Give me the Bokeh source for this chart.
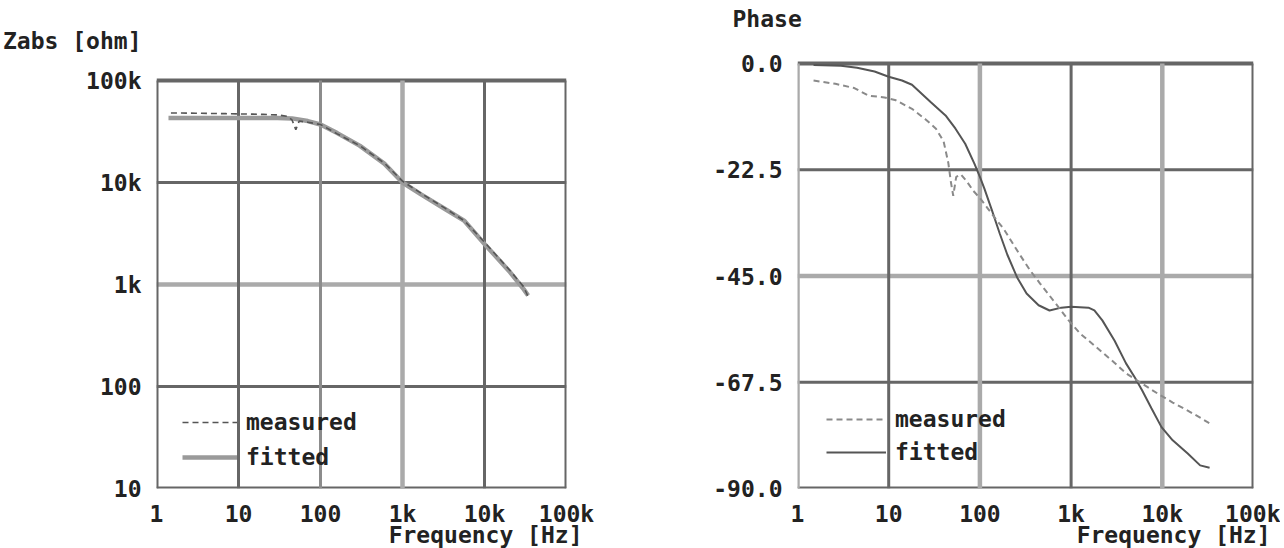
from bokeh.plotting import figure
from bokeh.models import Range1d, FixedTicker, Span, Title, Legend, LegendItem
from bokeh.layouts import row
from bokeh.embed import file_html
from bokeh.resources import INLINE

# ---------------- data ----------------
freq_ticks = [1, 10, 100, 1000, 10000, 100000]
freq_tick_labels = ["1", "10", "100", "1k", "10k", "100k"]
z_ticks = [10, 100, 1000, 10000, 100000]
z_tick_labels = ["10", "100", "1k", "10k", "100k"]
phase_ticks = [-90.0, -67.5, -45.0, -22.5, 0.0]
phase_tick_labels = ["-90.0", "-67.5", "-45.0", "-22.5", "0.0"]

# |Z| measured
z_freq_measured = [1.5, 2, 3, 5, 7, 10, 15, 20, 30, 40, 45, 50, 55, 70, 100, 160, 300,
                   600, 1000, 1700, 3300, 5700, 10000, 20000, 30000, 34000]
z_measured = [48000, 48000, 47800, 47500, 47300, 47000, 46800, 46500, 46000, 44500, 41000,
              33000, 40000, 39000, 37000, 30000, 23000, 15500, 10300, 7800, 5600, 4200,
              2600, 1400, 950, 760]
# |Z| fitted
z_freq_fitted = [1.4, 3, 10, 30, 45, 70, 100, 160, 300, 600, 1000, 1700, 3300, 5700,
                 10000, 20000, 30000, 34000]
z_fitted = [43000, 43000, 43000, 43000, 42500, 40000, 37000, 30500, 23000, 15300, 10000,
            7600, 5500, 4200, 2500, 1350, 900, 780]

# phase measured
ph_freq_measured = [1.5, 2.6, 4.2, 6, 9, 12, 18, 26, 33, 40, 45, 48, 51, 55, 62, 72, 85,
                    100, 120, 150, 182, 270, 355, 457, 640, 940, 1260, 1870, 2800, 4000,
                    6000, 8900, 13000, 19000, 26000, 33000]
ph_measured = [-3.6, -4.3, -5.2, -6.8, -7.2, -7.8, -9.6, -12.0, -13.8, -16.5, -21.0, -25.0,
               -28.0, -24.0, -23.5, -25.0, -27.0, -28.5, -30.5, -33.0, -35.0, -40.3, -43.8,
               -46.6, -50.2, -54.4, -57.2, -60.0, -62.9, -65.6, -67.8, -69.9, -71.8, -73.5,
               -75.0, -76.2]
# phase fitted
ph_freq_fitted = [1.5, 3, 4.5, 7, 10, 14, 18, 29, 42, 54, 69, 87, 100, 112, 135, 165, 200,
                  256, 325, 440, 580, 780, 1000, 1550, 1800, 2200, 3000, 4000, 5000, 6000,
                  7600, 9800, 13000, 19000, 26000, 33000]
ph_fitted = [-0.3, -0.5, -0.9, -1.7, -2.8, -3.6, -4.5, -8.2, -11.0, -13.8, -17.0, -21.2,
             -24.0, -26.5, -31.0, -36.0, -40.5, -45.3, -48.7, -51.2, -52.3, -51.7, -51.5,
             -51.7, -52.3, -54.4, -58.7, -63.5, -66.5, -69.2, -73.0, -77.0, -79.8, -82.6,
             -85.1, -85.6]

z_axis_title = "Zabs [ohm]"
phase_axis_title = "Phase"
freq_axis_title = "Frequency [Hz]"

# ---------------- style ----------------
FONT = "DejaVu Sans Mono"
FSIZE = "23px"
TXT = "#222222"
DARK = "#666666"
MID = "#8c8c8c"
LIGHT = "#aaaaaa"
H = 548
TOTAL_W = 1280
TOP = 31          # common frame top (the row aligns both frames)
BOTTOM = 488      # common frame bottom


def style_axes(p, xt, xl, yt, yl):
    ax = p.xaxis[0]
    ax.ticker = FixedTicker(ticks=xt, minor_ticks=[])
    ax.major_label_overrides = {t: l for t, l in zip(xt, xl)}
    ax.major_label_standoff = 12
    ay = p.yaxis[0]
    ay.ticker = FixedTicker(ticks=yt, minor_ticks=[])
    ay.major_label_overrides = {t: l for t, l in zip(yt, yl)}
    ay.major_label_standoff = 15
    for a in (ax, ay):
        a.axis_line_color = None
        a.major_tick_line_color = None
        a.minor_tick_line_color = None
        a.major_tick_out = 0
        a.major_tick_in = 0
        a.major_label_text_font = FONT
        a.major_label_text_font_size = FSIZE
        a.major_label_text_font_style = "bold"
        a.major_label_text_color = TXT
    p.xgrid.visible = False
    p.ygrid.visible = False


def add_span(p, loc, dim, color, width):
    p.add_layout(Span(location=loc, dimension=dim, line_color=color,
                      line_width=width, level="underlay"))


def add_bottom_title(p, text, offset):
    p.add_layout(Title(text=text, align="right", offset=offset,
                       standoff=-15, vertical_align="top", text_font=FONT,
                       text_font_size=FSIZE, text_font_style="bold",
                       text_color=TXT), "below")


def make_legend(p, r_meas, r_fit, loc, gw, spacing, standoff):
    leg = Legend(items=[LegendItem(label="measured", renderers=[r_meas]),
                        LegendItem(label="fitted", renderers=[r_fit])],
                 location=loc, glyph_width=gw, glyph_height=20, label_height=20,
                 spacing=spacing, label_standoff=standoff, padding=0, margin=0,
                 border_line_color=None, background_fill_alpha=0,
                 label_text_font=FONT, label_text_font_size=FSIZE,
                 label_text_font_style="bold", label_text_color=TXT)
    p.add_layout(leg)


# ---------------- left: |Z| ----------------
W1 = 660
L1 = 155
FW1 = 411
BOX_TOP1 = 80                        # pixel row of 100k
DEC1 = (BOTTOM - BOX_TOP1) / 4.0     # pixels per decade
y1_end = 10 ** (5 + (BOX_TOP1 - TOP) / DEC1)
z_title_pos = 10 ** (5 + (BOX_TOP1 - 40) / DEC1)   # axis title row above the box
p1 = figure(width=W1, height=H, x_axis_type="log", y_axis_type="log",
            x_range=Range1d(1, 1e5), y_range=Range1d(10, y1_end),
            output_backend="svg", toolbar_location=None,
            min_border_left=L1, min_border_right=W1 - L1 - FW1,
            min_border_top=TOP, min_border_bottom=H - BOTTOM)
p1.outline_line_color = None
style_axes(p1, freq_ticks, freq_tick_labels,
           z_ticks + [z_title_pos], z_tick_labels + [z_axis_title])

v_colors1 = [DARK, DARK, MID, LIGHT, DARK, DARK]
v_widths1 = [4, 3, 3, 4.5, 3, 4]
p1.segment(x0=freq_ticks, y0=[z_ticks[0]] * len(freq_ticks),
           x1=freq_ticks, y1=[z_ticks[-1]] * len(freq_ticks),
           line_color=v_colors1, line_width=v_widths1)
add_span(p1, 10000, "width", DARK, 3)
add_span(p1, 1000, "width", LIGHT, 4.5)
add_span(p1, 100, "width", DARK, 3)
add_span(p1, 10, "width", DARK, 4)
add_span(p1, 1e5, "width", DARK, 4)

r_fit1 = p1.line(z_freq_fitted, z_fitted, line_color="#9a9a9a", line_width=4.5)
r_meas1 = p1.line(z_freq_measured, z_measured, line_color="#555555", line_width=1.6,
                  line_dash="6 4")
make_legend(p1, r_meas1, r_fit1, (26, 18), 55, 9, 9)
add_bottom_title(p1, freq_axis_title, 566 - 582)

# ---------------- right: phase ----------------
W2 = TOTAL_W - W1
FW2 = 456
L2 = 797 - W1
BOX_TOP2 = 63                                  # pixel row of 0.0
DEG2 = (BOTTOM - BOX_TOP2) / 90.0              # pixels per degree
y2_end = (BOX_TOP2 - TOP) / DEG2
p2 = figure(width=W2, height=H, x_axis_type="log",
            x_range=Range1d(1, 1e5), y_range=Range1d(-90, y2_end),
            output_backend="svg", toolbar_location=None,
            min_border_left=L2, min_border_right=W2 - L2 - FW2,
            min_border_top=TOP, min_border_bottom=H - BOTTOM)
p2.outline_line_color = None
style_axes(p2, freq_ticks, freq_tick_labels, phase_ticks, phase_tick_labels)

v_colors2 = [LIGHT, DARK, LIGHT, DARK, LIGHT, DARK]
v_widths2 = [4.5, 3, 4.5, 3, 4.5, 4]
p2.segment(x0=freq_ticks, y0=[phase_ticks[0]] * len(freq_ticks),
           x1=freq_ticks, y1=[phase_ticks[-1]] * len(freq_ticks),
           line_color=v_colors2, line_width=v_widths2)
add_span(p2, -22.5, "width", DARK, 3)
add_span(p2, -45, "width", LIGHT, 4.5)
add_span(p2, -67.5, "width", DARK, 3)
add_span(p2, 0, "width", DARK, 4)
add_span(p2, -90, "width", DARK, 4)

r_fit2 = p2.line(ph_freq_fitted, ph_fitted, line_color="#555555", line_width=2)
r_meas2 = p2.line(ph_freq_measured, ph_measured, line_color="#8a8a8a", line_width=2,
                  line_dash="6 4")
make_legend(p2, r_meas2, r_fit2, (29, 23), 60, 7, 9)
p2.title = Title(text=phase_axis_title, align="left", offset=733 - 797 - 1, standoff=0,
                 text_font=FONT, text_font_size=FSIZE, text_font_style="bold",
                 text_color=TXT)
add_bottom_title(p2, freq_axis_title, 1253 - 1270)

layout = row(p1, p2)
open("out.html", "w").write(file_html(layout, INLINE))
